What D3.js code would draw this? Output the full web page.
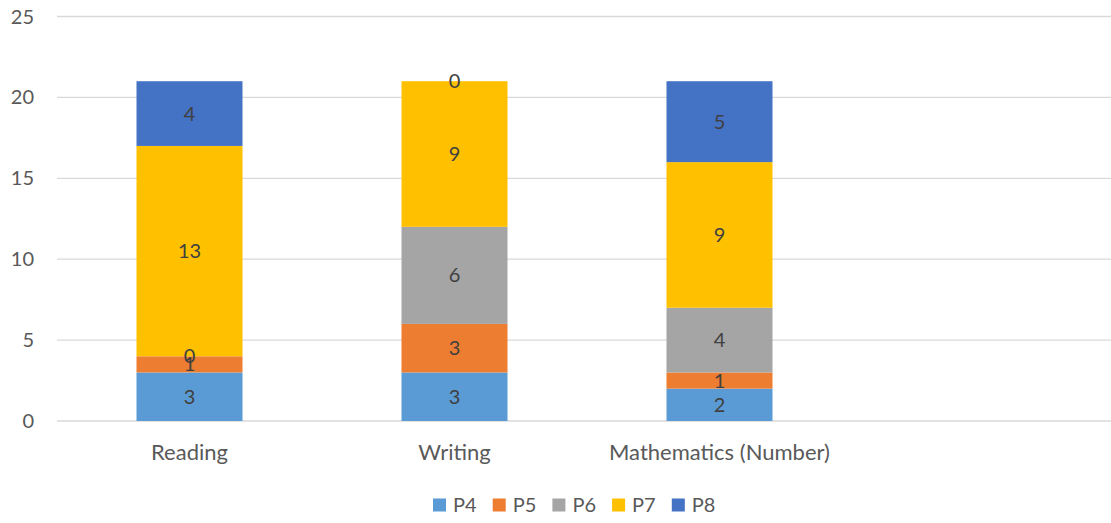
<!DOCTYPE html>
<html>
<head>
<meta charset="utf-8">
<script src="https://cdn.jsdelivr.net/npm/d3@7"></script>
<style>
  body { margin: 0; background: #fff; }
  text { font-family: Lato, "Open Sans", sans-serif; }
</style>
</head>
<body>
<script>
// chart data
var categories = ["Reading", "Writing", "Mathematics (Number)", ""];
var seriesNames = ["P4", "P5", "P6", "P7", "P8"];
var seriesColors = ["#5B9BD5", "#ED7D31", "#A5A5A5", "#FFC000", "#4472C4"];
var p4 = [3, 3, 2];
var p5 = [1, 3, 1];
var p6 = [0, 6, 4];
var p7 = [13, 9, 9];
var p8 = [4, 0, 5];
var yTicks = [0, 5, 10, 15, 20, 25];

var width = 1111, height = 523;

var svg = d3.select("body").append("svg")
    .attr("width", width)
    .attr("height", height);

var x = d3.scaleBand()
    .domain(categories)
    .range([57, 1117])
    .paddingInner(0.6)
    .paddingOuter(0.3);

var y = d3.scaleLinear()
    .domain([0, 25])
    .range([421, 16.5]);

//gridlines
svg.selectAll(".grid")
    .data(yTicks)
    .enter()
    .append("line")
    .attr("x1", 57)
    .attr("x2", 1117)
    .attr("y1", function(d){ return y(d); })
    .attr("y2", function(d){ return y(d); })
    .attr("stroke", "#d9d9d9")
    .attr("stroke-width", 1.3);

//y tick labels
svg.selectAll(".ytick")
    .data(yTicks)
    .enter()
    .append("text")
    .attr("x", 34)
    .attr("y", function(d){ return y(d); })
    .attr("dy", "0.35em")
    .attr("text-anchor", "end")
    .attr("font-size", 20)
    .attr("fill", "#595959")
    .text(function(d){ return d; });

//build table for stack
var table = categories.slice(0, 3).map(function(c, i){
    return { cat: c, P4: p4[i], P5: p5[i], P6: p6[i], P7: p7[i], P8: p8[i] };
});
var stacked = d3.stack().keys(seriesNames)(table);

var layers = svg.selectAll(".layer")
    .data(stacked)
    .enter()
    .append("g")
    .attr("fill", function(d, i){ return seriesColors[i]; });

layers.selectAll("rect")
    .data(function(d){ return d; })
    .enter()
    .append("rect")
    .attr("x", function(d){ return x(d.data.cat); })
    .attr("width", x.bandwidth())
    .attr("y", function(d){ return y(d[1]); })
    .attr("height", function(d){ return y(d[0]) - y(d[1]); });

//data labels
stacked.forEach(function(layer){
    svg.selectAll(null)
        .data(layer)
        .enter()
        .append("text")
        .attr("x", function(d){ return x(d.data.cat) + x.bandwidth() / 2; })
        .attr("y", function(d){ return y((d[0] + d[1]) / 2); })
        .attr("dy", "0.35em")
        .attr("text-anchor", "middle")
        .attr("font-size", 20)
        .attr("fill", "#404040")
        .text(function(d){ return d[1] - d[0]; });
});

//x axis labels
svg.selectAll(".xlab")
    .data(categories)
    .enter()
    .append("text")
    .attr("x", function(d){ return x(d) + x.bandwidth() / 2; })
    .attr("y", 452)
    .attr("dy", "0.35em")
    .attr("text-anchor", "middle")
    .attr("font-size", 22)
    .attr("fill", "#595959")
    .text(function(d){ return d; });

//legend
var legend = svg.selectAll(".legend")
    .data(seriesNames)
    .enter()
    .append("g")
    .attr("transform", function(d, i){ return "translate(" + (433 + i * 59.7) + ",505)"; });

legend.append("rect")
    .attr("x", 0)
    .attr("y", -6.5)
    .attr("width", 13)
    .attr("height", 13)
    .attr("fill", function(d, i){ return seriesColors[i]; });

legend.append("text")
    .attr("x", 20)
    .attr("y", 0)
    .attr("dy", "0.35em")
    .attr("font-size", 20)
    .attr("fill", "#595959")
    .text(function(d){ return d; });
</script>
</body>
</html>
